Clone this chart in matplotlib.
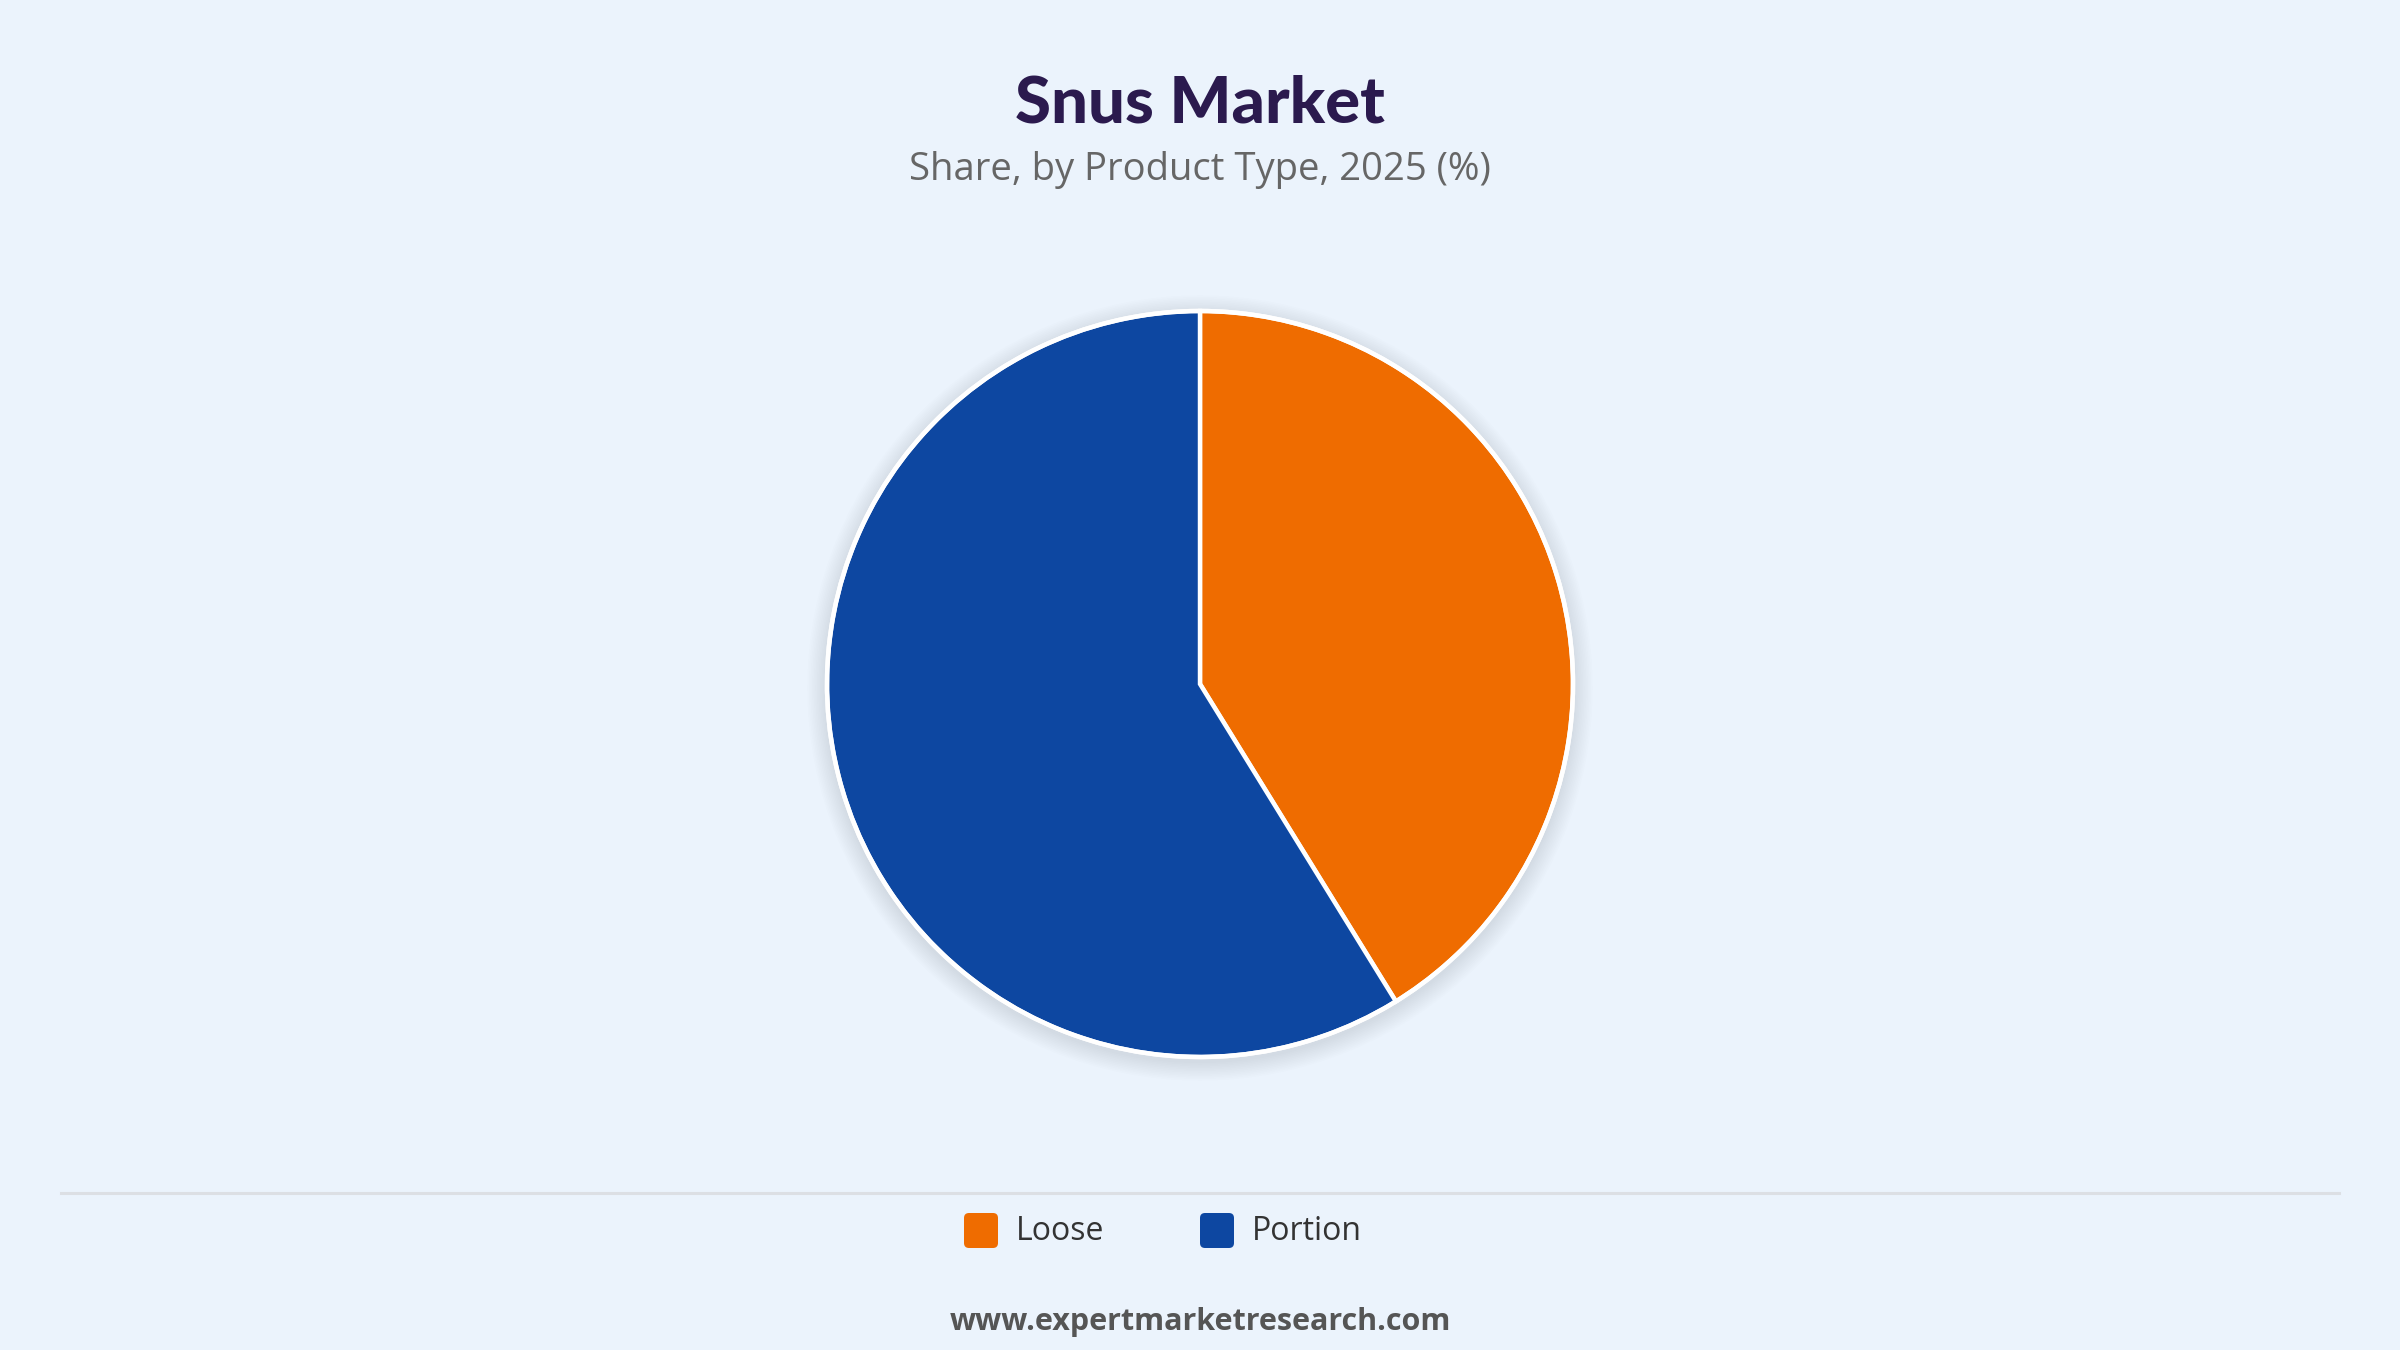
import matplotlib; matplotlib.use("Agg")
import matplotlib.pyplot as plt
from matplotlib.patches import Circle, FancyBboxPatch
from matplotlib.lines import Line2D

# data
segments = ["Loose", "Portion"]
shares = [41.2, 58.8]
colors = ["#EF6C00", "#0D47A1"]

BG = "#EBF3FC"
W, H = 2400, 1350

fig = plt.figure(figsize=(24, 13.5), dpi=100, facecolor=BG)
ax = fig.add_axes([0, 0, 1, 1])
ax.set_facecolor(BG)

cx, cy, r = 1200, H - 684, 373

# soft shadow behind the pie
for i in range(12):
    ax.add_patch(Circle((cx, cy - 4), r + 2 + i * 1.6, fc="#9aa6b8", ec="none",
                        alpha=0.025, zorder=1))

ax.pie(shares, colors=colors, startangle=90, counterclock=False,
       center=(cx, cy), radius=r,
       wedgeprops=dict(edgecolor="white", linewidth=3.2, zorder=3))
ax.add_patch(Circle((cx, cy), r, fc="none", ec="white", lw=3.2, zorder=4))

ax.set_xlim(0, W); ax.set_ylim(0, H); ax.set_aspect("auto"); ax.axis("off")

# titles
ax.text(1200, H - 104, "Snus Market", ha="center", va="center", fontsize=47,
        fontweight="black", color="#2B1A4E", family="Lato")
ax.text(1200, H - 170, "Share, by Product Type, 2025 (%)", ha="center", va="center",
        fontsize=27.5, color="#666666", family="Open Sans")

# separator
ax.add_line(Line2D([61, 2339], [H - 1193, H - 1193], color="#DCDFE4", lw=2.2))

# legend
leg_x = [964, 1200]
for x, lab, c in zip(leg_x, segments, colors):
    ax.add_patch(FancyBboxPatch((x, H - 1248), 34, 35,
                                boxstyle="round,pad=0,rounding_size=5",
                                fc=c, ec="none"))
    ax.text(x + 52, H - 1232, lab, ha="left", va="center", fontsize=23,
            color="#333333", family="Open Sans")

# footer
ax.text(1200, H - 1322, "www.expertmarketresearch.com", ha="center", va="center",
        fontsize=22, fontweight="bold", color="#555555", family="Open Sans")

fig.savefig("out.png", dpi=100, facecolor=BG)
